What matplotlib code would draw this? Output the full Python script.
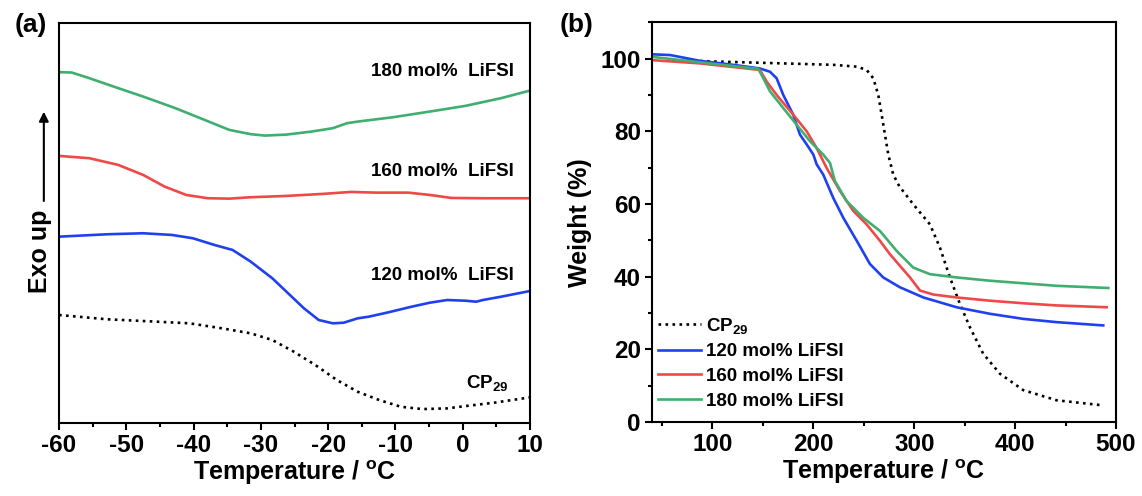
import matplotlib
matplotlib.use('Agg')
import matplotlib.pyplot as plt
from matplotlib.ticker import MultipleLocator

plt.rcParams['font.family'] = ['Liberation Sans', 'DejaVu Sans']
plt.rcParams['font.weight'] = 'bold'
plt.rcParams['axes.labelweight'] = 'bold'
plt.rcParams['axes.unicode_minus'] = False
plt.rcParams['mathtext.fontset'] = 'custom'
plt.rcParams['mathtext.rm'] = 'Liberation Sans:bold'
plt.rcParams['mathtext.it'] = 'Liberation Sans:bold'
plt.rcParams['mathtext.bf'] = 'Liberation Sans:bold'
plt.rcParams['mathtext.default'] = 'rm'

# ---- (a) DSC, arbitrary heat-flow units ----
t_180 = [-60, -58.1, -55.5, -51.2, -47.5, -42.7, -39.0, -34.7, -31.5, -29.4, -26.2, -22.5,
         -19.3, -17.2, -15.6, -10.3, -4.9, 0.4, 5.7, 10]
dsc_180 = [350.7, 350.3, 344.7, 334.7, 326.3, 314.7, 304.7, 293, 288.7, 287.3, 288.3, 291.3,
           294.7, 299.7, 301.3, 305.7, 311.3, 317, 324.7, 332.3]

t_160 = [-60, -55.5, -51.2, -47.5, -44.3, -41.1, -37.9, -34.7, -31.5, -26.2, -20.9, -16.6,
         -12.9, -8.1, -4.9, -1.7, 3.1, 10]
dsc_160 = [267, 264.7, 258, 248, 236.3, 228, 224.7, 224.3, 225.7, 227, 229, 231,
           230.3, 230.3, 228, 225, 224.7, 224.7]

t_120 = [-60, -52.8, -47.5, -43.2, -40.1, -36.9, -34.2, -31.5, -28.3, -26.2, -23.6, -21.4,
         -19.3, -17.7, -15.6, -14.0, -11.3, -7.6, -4.9, -2.3, 0.4, 2.0, 3.0, 5.7, 10]
dsc_120 = [186.3, 188.7, 189.7, 188, 184.7, 178, 173, 161.3, 144.7, 131.3, 114.7, 103,
           99.7, 100.3, 104.7, 106.3, 110.3, 116.3, 120.3, 123, 122.3, 121.3, 123, 126.3, 132]

t_cp = [-60, -52.8, -47.5, -40.6, -35.8, -31.5, -28.3, -25.1, -21.9, -18.7, -15.6, -12.4,
        -9.2, -6.0, -2.3, 0.4, 4.6, 10]
dsc_cp = [108, 103.7, 102, 99.7, 94.7, 89.7, 83, 71.3, 58, 43, 31.3, 23,
          16.3, 14, 14.7, 17, 20.3, 25.7]

# ---- (b) TGA ----
tg_t_120 = [40, 57.8, 71, 87.6, 120.6, 147, 157, 163.6, 170.2, 180, 186.7, 193.4, 200, 203.3,
            209.8, 219.7, 229.7, 243, 256.1, 269.3, 285.8, 309, 342, 375.1, 408.1, 441.2, 487.4]
tg_w_120 = [101.2, 101.0, 100.3, 99.4, 98.3, 97.3, 96.4, 94.6, 90.0, 84.6, 79.1, 76.4, 73.6, 70.9,
            68.1, 61.7, 56.2, 49.9, 43.5, 39.8, 37.1, 34.3, 31.6, 29.8, 28.4, 27.5, 26.6]

tg_t_160 = [40, 87.6, 147, 153.7, 163.6, 180, 193.4, 203.3, 213.2, 226.4, 239.6, 252.8, 266,
            275.9, 295.8, 305.7, 318.9, 342, 375.1, 408.1, 441.2, 490.8]
tg_w_160 = [99.6, 98.7, 96.9, 93.7, 90.0, 84.6, 80.0, 75.4, 69.9, 63.6, 58.1, 54.4, 49.9,
            46.2, 39.8, 36.2, 35.1, 34.3, 33.4, 32.7, 32.1, 31.6]

tg_t_180 = [40, 87.6, 145.4, 150.4, 157, 170.2, 183.5, 196.6, 209.8, 216.5, 221.4, 233, 249.5,
            266, 282.6, 299.1, 315.6, 342, 375.1, 408.1, 441.2, 492.4]
tg_w_180 = [100.5, 99.0, 97.2, 94.6, 91.0, 86.4, 81.8, 77.3, 73.6, 71.3, 66.3, 60.8, 56.2,
            52.6, 47.1, 42.5, 40.7, 39.8, 38.9, 38.2, 37.5, 36.9]

tg_t_cp = [60, 104.1, 170.2, 219.7, 243, 252.8, 259.4, 264.4, 267.7, 271, 274.3, 279.2, 285.2,
           299.1, 315.6, 325.5, 335.4, 345.3, 355.2, 368.4, 385, 408.1, 441.2, 484]
tg_w_cp = [99.6, 99.2, 98.7, 98.3, 97.8, 96.9, 94.6, 90.0, 84.6, 79.1, 73.6, 68.1, 64.9,
           59.9, 54.4, 48.0, 39.8, 32.5, 26.1, 18.8, 13.3, 8.8, 6.0, 4.7]

c_blue = '#2040f0'
c_red = '#f04848'
c_green = '#3fae6e'

fig = plt.figure(figsize=(11.42, 4.96), dpi=100)
ax1 = fig.add_axes([0.0517, 0.147, 0.4124, 0.807])
ax2 = fig.add_axes([0.5709, 0.149, 0.4063, 0.806])

lw = 1.9
ax1.plot(t_180, dsc_180, color=c_green, lw=lw)
ax1.plot(t_160, dsc_160, color=c_red, lw=lw)
ax1.plot(t_120, dsc_120, color=c_blue, lw=lw)
ax1.plot(t_cp, dsc_cp, color='black', lw=lw, ls=':')
ax1.set_xlim(-60, 10)
ax1.set_ylim(0, 400)
ax1.set_yticks([])
ax1.xaxis.set_major_locator(MultipleLocator(10))
ax1.xaxis.set_minor_locator(MultipleLocator(5))
ax1.set_xlabel(r'Temperature / $^{o}$C', fontsize=18, labelpad=1)

tk = dict(fontsize=13.5, transform=ax1.transAxes, ha='right', va='baseline')
ax1.text(0.966, 0.8675, '180 mol%  LiFSI', **tk)
ax1.text(0.966, 0.6175, '160 mol%  LiFSI', **tk)
ax1.text(0.966, 0.3575, '120 mol%  LiFSI', **tk)
ax1.text(0.955, 0.087, r'CP$_{29}$', **tk)

ax1.text(-0.04, 0.43, 'Exo up', rotation=90, fontsize=18, transform=ax1.transAxes,
         ha='center', va='center')
ax1.annotate('', xy=(-0.0323, 0.785), xytext=(-0.0323, 0.548), xycoords='axes fraction',
             annotation_clip=False,
             arrowprops=dict(arrowstyle='-|>', lw=1.5, color='black', mutation_scale=14))

ax2.plot(tg_t_cp, tg_w_cp, color='black', lw=lw, ls=':', label=r'CP$_{29}$')
ax2.plot(tg_t_120, tg_w_120, color=c_blue, lw=lw, label='120 mol% LiFSI')
ax2.plot(tg_t_160, tg_w_160, color=c_red, lw=lw, label='160 mol% LiFSI')
ax2.plot(tg_t_180, tg_w_180, color=c_green, lw=lw, label='180 mol% LiFSI')
ax2.set_xlim(40, 500)
ax2.set_ylim(0, 110)
ax2.xaxis.set_major_locator(MultipleLocator(100))
ax2.xaxis.set_minor_locator(MultipleLocator(50))
ax2.yaxis.set_major_locator(MultipleLocator(20))
ax2.yaxis.set_minor_locator(MultipleLocator(10))
ax2.set_xlabel(r'Temperature / $^{o}$C', fontsize=18, labelpad=1)
ax2.set_ylabel('Weight (%)', fontsize=18, labelpad=6)
ax2.legend(loc='upper left', bbox_to_anchor=(0.0, 0.28), frameon=False, fontsize=13.5,
           handlelength=2.3, handletextpad=0.3, labelspacing=0.4, borderpad=0, borderaxespad=0.3)

for ax in (ax1, ax2):
    for s in ax.spines.values():
        s.set_linewidth(1.5)
    ax.tick_params(which='both', direction='out', width=1.5, labelsize=17.5, top=False, right=False)
    ax.tick_params(which='major', length=5, pad=3)
    ax.tick_params(which='minor', length=3)

fig.text(0.027, 0.95, '(a)', fontsize=19, ha='center', va='center')
fig.text(0.505, 0.95, '(b)', fontsize=19, ha='center', va='center')

fig.savefig('out.png', dpi=100)
